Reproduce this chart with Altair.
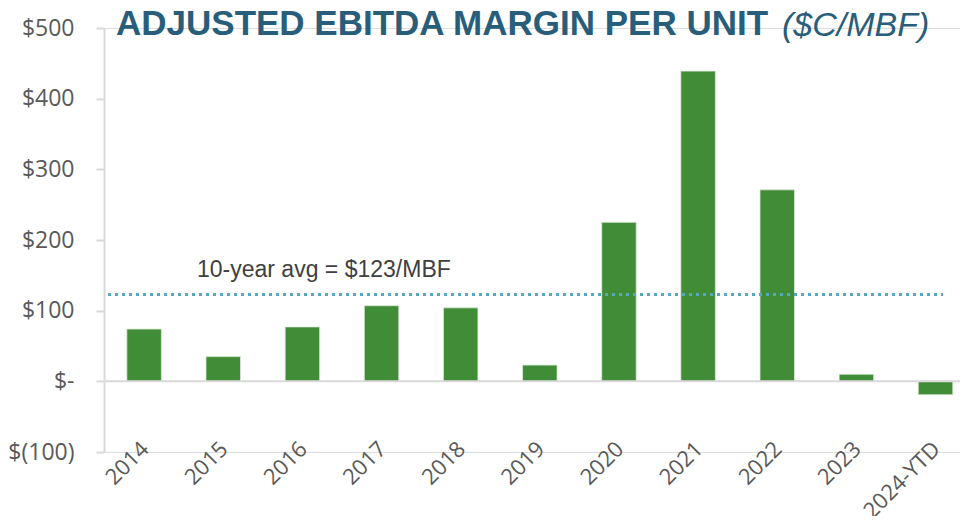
import altair as alt
import pandas as pd

years = ["2014", "2015", "2016", "2017", "2018", "2019", "2020", "2021", "2022", "2023", "2024-YTD"]
margins = [74, 35, 77, 107, 104, 23, 225, 439, 271, 10, -19]
avg_value = [123]
avg_label = ["10-year avg = $123/MBF"]
title_main = ["ADJUSTED EBITDA MARGIN PER UNIT"]
title_unit = ["($C/MBF)"]
y_ticks = [-100, 0, 100, 200, 300, 400, 500]

df = pd.DataFrame({"year": years, "margin": margins})
avg_df = pd.DataFrame({"avg": avg_value, "label": avg_label})
zero_df = pd.DataFrame({"z": [0]})
title_df = pd.DataFrame({"main": title_main, "unit": title_unit})

W, H = 856, 424

x_scale = alt.Scale(domain=years, paddingInner=0.564, paddingOuter=0.19, align=0.76)
y_scale = alt.Scale(domain=[-100, 500], nice=False, zero=False)

bars = alt.Chart(df).mark_bar(color="#418C36", stroke="#DDE8DA", strokeWidth=0.8).encode(
    x=alt.X("year:N", scale=x_scale, sort=years, title=None,
            axis=alt.Axis(labelAngle=-45, labelFontSize=22, labelFont="Open Sans",
                          labelColor="#595959", domain=False, ticks=False,
                          labelPadding=-14, labelOffset=-6)),
    y=alt.Y("margin:Q", scale=y_scale, title=None,
            axis=alt.Axis(values=y_ticks, grid=False, domainColor="#D9D9D9", domainWidth=2,
                          tickColor="#D9D9D9", tickWidth=2, tickSize=8,
                          labelFontSize=23, labelFont="Open Sans", labelColor="#595959",
                          labelPadding=22,
                          labelExpr="datum.value == 0 ? '$-' : (datum.value < 0 ? '$(' + format(-datum.value, ',') + ')' : '$' + format(datum.value, ','))")),
)

zero_line = alt.Chart(zero_df).mark_rule(color="#D9D9D9", strokeWidth=2).encode(
    y=alt.Y("z:Q", scale=y_scale),
    x=alt.value(0), x2=alt.value(W),
)

avg_rule = alt.Chart(avg_df).mark_rule(color="#56A9BA", strokeWidth=3, strokeDash=[3, 4]).encode(
    y=alt.Y("avg:Q", scale=y_scale),
    x=alt.value(4), x2=alt.value(839),
)

avg_text = alt.Chart(avg_df).mark_text(align="left", baseline="alphabetic", fontSize=23,
                                       font="Liberation Sans", color="#404040", dy=-17).encode(
    y=alt.Y("avg:Q", scale=y_scale),
    x=alt.value(93),
    text="label:N",
)

title_a = alt.Chart(title_df).mark_text(align="left", baseline="alphabetic", fontSize=35,
                                        fontWeight="bold", font="Liberation Sans",
                                        color="#285E7A").encode(
    x=alt.value(12), y=alt.value(7), text="main:N")

title_b = alt.Chart(title_df).mark_text(align="left", baseline="alphabetic", fontSize=34,
                                        fontStyle="italic", font="Liberation Sans",
                                        color="#285E7A").encode(
    x=alt.value(678), y=alt.value(8), text="unit:N")

chart = alt.layer(bars, zero_line, avg_rule, avg_text, title_a, title_b).properties(
    width=W, height=H,
    autosize=alt.AutoSizeParams(type="none"),
    padding={"left": 96, "top": 20, "right": 0, "bottom": 64},
).configure_view(stroke=None).configure(background="white")

chart.save("out.html", embed_options={"renderer": "svg", "actions": False})
